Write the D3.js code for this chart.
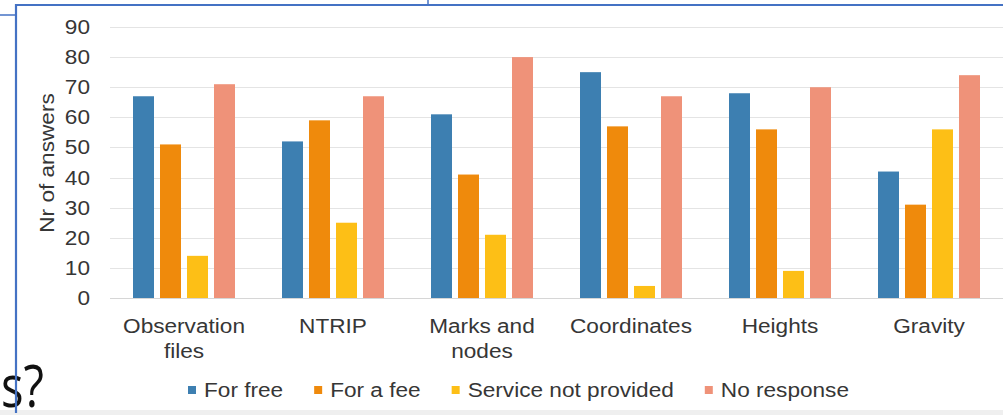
<!DOCTYPE html>
<html><head><meta charset="utf-8">
<script src="https://cdn.jsdelivr.net/npm/d3@7/dist/d3.min.js"></script>
<style>html,body{margin:0;padding:0;background:#fff;overflow:hidden}svg{display:block}</style>
</head><body><svg id="c" width="1003" height="415"></svg>
<script>
const categories = [["Observation","files"],["NTRIP"],["Marks and","nodes"],["Coordinates"],["Heights"],["Gravity"]];
const seriesNames = ["For free","For a fee","Service not provided","No response"];
const forFree = [67,52,61,75,68,42];
const forAFee = [51,59,41,57,56,31];
const notProvided = [14,25,21,4,9,56];
const noResponse = [71,67,80,67,70,74];
const seriesValues = [forFree, forAFee, notProvided, noResponse];
const colors = ["#3d7fb1","#ef8a0c","#fdbf16","#ef9279"];
const yTicks = [0,10,20,30,40,50,60,70,80,90];
const yTitle = "Nr of answers";

const svg = d3.select("#c");
const FONT = "'Liberation Sans', Arial, sans-serif";
const FS = 19.5, SX = 1.16, TXT = "#363636";
const blue = "#4472c4";

// bottom band
svg.append("rect").attr("x",0).attr("y",410).attr("width",1003).attr("height",5).attr("fill","#efefef");

const catKeys = categories.map(c=>c.join(" "));
const x0 = d3.scaleBand().domain(catKeys).range([109.5, 1003.5]).paddingInner(0).paddingOuter(0);
const bw = x0.bandwidth();
const x1 = d3.scaleBand().domain(seriesNames).range([bw/2-51, bw/2+51]).paddingInner(6/27).paddingOuter(0);
const y = d3.scaleLinear().domain([0,90]).range([298,27]);

function stext(g, x, yy, str, anchor, rot){
  const t = g.append("g").attr("transform",`translate(${x},${yy})${rot?` rotate(${rot})`:""} scale(${SX},1)`)
    .append("text").attr("x",0).attr("y",0).attr("text-anchor",anchor||"start")
    .attr("font-family",FONT).attr("font-size",FS).attr("fill",TXT).text(str);
  return t;
}

// gridlines
const grid = svg.append("g");
grid.selectAll("line").data(yTicks).join("line")
  .attr("x1",110).attr("x2",1003).attr("y1",d=>Math.round(y(d))+0.5).attr("y2",d=>Math.round(y(d))+0.5)
  .attr("stroke",d=>d===0?"#d6d6d6":"#e4e4e4").attr("stroke-width",1);

// y labels
const yl = svg.append("g");
yTicks.forEach(d=> stext(yl, 90, y(d)+7, String(d), "end"));
stext(svg, 54, 163, yTitle, "middle", -90);

// bars
const gBars = svg.append("g");
seriesNames.forEach((s,si)=>{
  gBars.selectAll(null).data(seriesValues[si]).join("rect")
    .attr("x",(d,i)=>x0(catKeys[i])+x1(s))
    .attr("width",x1.bandwidth())
    .attr("y",d=>y(d)).attr("height",d=>y(0)-y(d))
    .attr("fill",colors[si]);
});

// x labels
const xl = svg.append("g");
categories.forEach((c,i)=>{
  const cx = x0(catKeys[i]) + bw/2;
  c.forEach((line,li)=> stext(xl, cx, 333 + li*25, line, "middle"));
});

// legend
const lg = svg.append("g");
let lx = 188;
seriesNames.forEach((s,i)=>{
  lg.append("rect").attr("x",lx).attr("y",386).attr("width",8).attr("height",8).attr("fill",colors[i]);
  const t = stext(lg, lx+16, 397, s, "start");
  const w = t.node().getComputedTextLength()*SX;
  lx = lx + 16 + w + 31;
});

// slide decorations
svg.append("text").attr("x",1).attr("y",407).attr("text-anchor","start")
  .attr("textLength",43).attr("lengthAdjust","spacingAndGlyphs")
  .attr("font-family","'Open Sans', 'Noto Sans', sans-serif").attr("font-size",58).attr("fill","#111").text("s?");
svg.append("line").attr("x1",15).attr("x2",1003).attr("y1",5).attr("y2",5).attr("stroke",blue).attr("stroke-width",2.2);
svg.append("line").attr("x1",16).attr("x2",16).attr("y1",4).attr("y2",413).attr("stroke",blue).attr("stroke-width",2.2);
svg.append("line").attr("x1",0).attr("x2",16).attr("y1",15).attr("y2",15).attr("stroke",blue).attr("stroke-width",1.5);
svg.append("line").attr("x1",428).attr("x2",428).attr("y1",0).attr("y2",5).attr("stroke",blue).attr("stroke-width",1.5);
</script></body></html>
